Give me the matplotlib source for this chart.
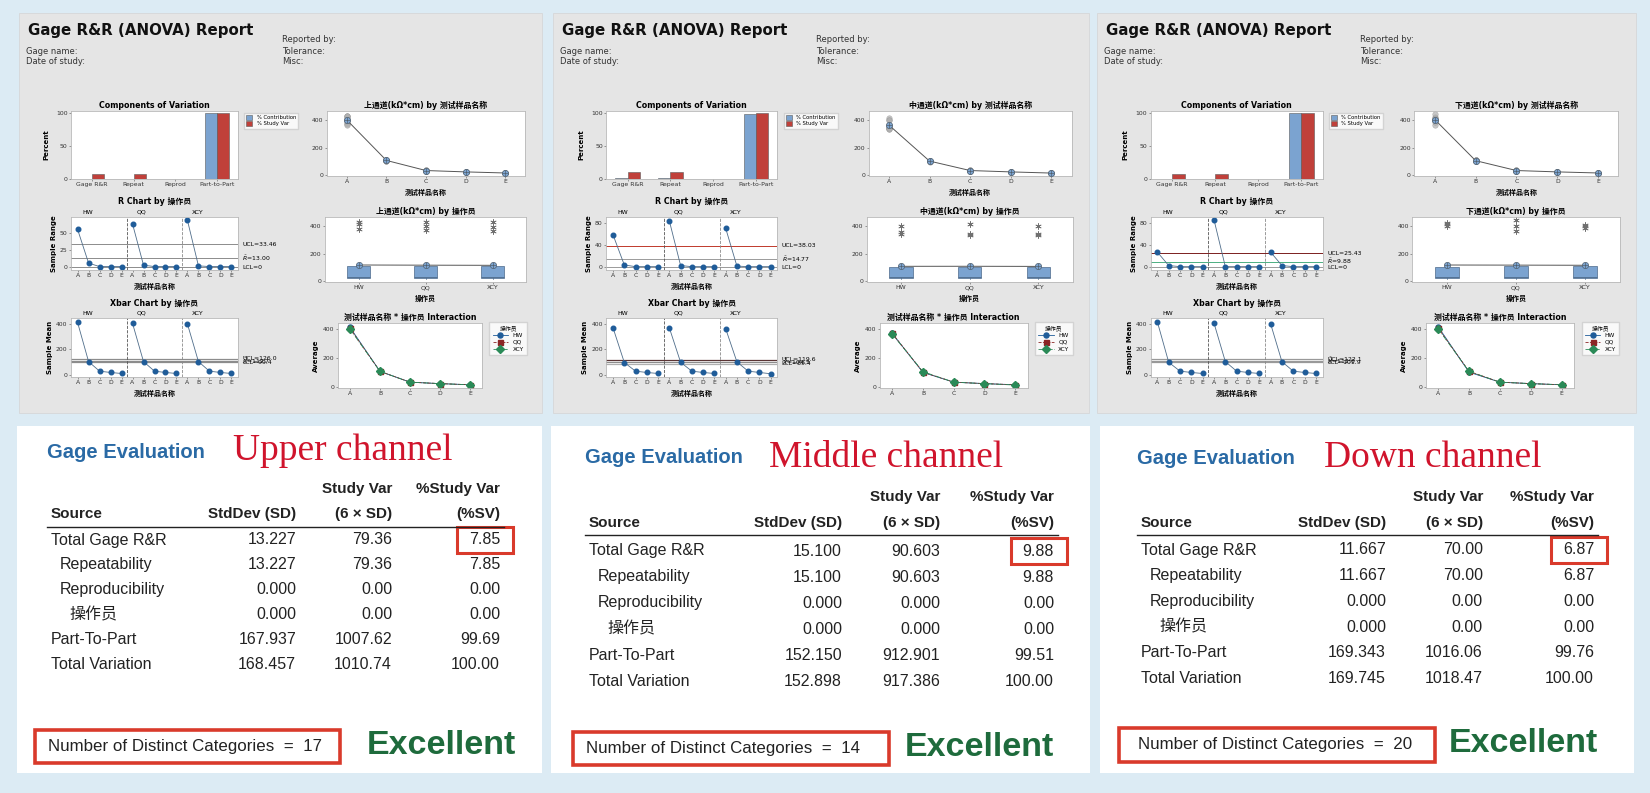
import numpy as np
import matplotlib
matplotlib.use('Agg')
import matplotlib.pyplot as plt
from matplotlib.patches import Rectangle

# ---- data ----
channels = ['上通道', '中通道', '下通道']
channel_names = ['Upper channel', 'Middle channel', 'Down channel']
operators = ['HW', 'QQ', 'XCY']
parts = ['A', 'B', 'C', 'D', 'E']

# measurements, parts A..E, 3 trials each
upper_hw = [435, 415, 380, 108, 102, 105, 30, 31, 30, 20, 21, 20, 12, 13, 12]
upper_qq = [435, 403, 372, 106, 103, 106, 30, 31, 30, 20, 21, 20, 12, 13, 12]
upper_xcy = [432, 398, 364, 106, 104, 105, 30, 31, 30, 20, 21, 20, 12, 13, 12]
middle_hw = [400, 362, 342, 96, 100, 98, 30, 31, 30, 20, 21, 20, 12, 13, 12]
middle_qq = [420, 347, 337, 98, 101, 100, 30, 31, 30, 20, 21, 20, 12, 13, 12]
middle_xcy = [406, 344, 336, 102, 104, 103, 30, 31, 30, 20, 21, 20, 10, 11, 10]
down_hw = [428, 415, 401, 98, 101, 100, 30, 31, 30, 20, 21, 20, 12, 13, 12]
down_qq = [450, 400, 365, 105, 106, 105, 30, 31, 30, 20, 21, 20, 12, 13, 12]
down_xcy = [413, 401, 386, 103, 106, 105, 30, 31, 30, 20, 21, 20, 12, 13, 12]

# control limits (UCL, centre, LCL)
upper_rlim = [33.46, 13.00, 0]
middle_rlim = [38.03, 14.77, 0]
down_rlim = [25.43, 9.88, 0]
upper_xlim = [126.0, 112.7, 99.4]
middle_xlim = [119.6, 104.5, 89.4]
down_xlim = [122.1, 112.0, 101.9]

comp_cats = ['Gage R&R', 'Repeat', 'Reprod', 'Part-to-Part']
sources = ['Total Gage R&R', 'Repeatability', 'Reproducibility', '操作员', 'Part-To-Part', 'Total Variation']
upper_sd = ['13.227', '13.227', '0.000', '0.000', '167.937', '168.457']
upper_sv = ['79.36', '79.36', '0.00', '0.00', '1007.62', '1010.74']
upper_psv = ['7.85', '7.85', '0.00', '0.00', '99.69', '100.00']
middle_sd = ['15.100', '15.100', '0.000', '0.000', '152.150', '152.898']
middle_sv = ['90.603', '90.603', '0.000', '0.000', '912.901', '917.386']
middle_psv = ['9.88', '9.88', '0.00', '0.00', '99.51', '100.00']
down_sd = ['11.667', '11.667', '0.000', '0.000', '169.343', '169.745']
down_sv = ['70.00', '70.00', '0.00', '0.00', '1016.06', '1018.47']
down_psv = ['6.87', '6.87', '0.00', '0.00', '99.76', '100.00']
ndc = [17, 14, 20]

meas = [[upper_hw, upper_qq, upper_xcy], [middle_hw, middle_qq, middle_xcy], [down_hw, down_qq, down_xcy]]
rlims = [upper_rlim, middle_rlim, down_rlim]
xlims = [upper_xlim, middle_xlim, down_xlim]
sds = [upper_sd, middle_sd, down_sd]
svs = [upper_sv, middle_sv, down_sv]
psvs = [upper_psv, middle_psv, down_psv]

# ---- layout (pixels) ----
W, H = 1650, 793
plt.rcParams['font.family'] = ['DejaVu Sans', 'Noto Sans CJK SC']
fig = plt.figure(figsize=(16.5, 7.93), dpi=100)
fig.patch.set_facecolor('#dcebf4')
bg = fig.add_axes([0, 0, 1, 1])
bg.set_xlim(0, W)
bg.set_ylim(H, 0)
bg.axis('off')

panel_x = [19, 553, 1097]
panel_w = [523, 536, 539]
white_x = [17, 551, 1100]
white_w = [525, 539, 534]

BLUE = '#1f5c99'
LINE = '#4f6d8a'


def px_axes(l, t, w, h):
    return fig.add_axes([l / W, 1 - (t + h) / H, w / W, h / H])


def style(ax):
    for s in ax.spines.values():
        s.set_color('#b8b8b8')
        s.set_linewidth(0.6)
    ax.tick_params(labelsize=4.4, length=1.5, width=0.4, pad=1, colors='#555', labelcolor='#333')


def oplus(ax, x, y):
    ax.plot(x, y, 'o', ms=4.5, mfc='#7ba3d0', mec='#50606f', mew=0.5, zorder=4)
    ax.plot(x, y, '+', ms=4.5, color='#50606f', mew=0.5, zorder=5)


tfs = 5.7   # chart title size
lfs = 5.0   # axis label size
sfs = 4.4   # small annotation size

for i in range(3):
    Lp, pw = panel_x[i], panel_w[i]
    sx = pw / 523
    bg.add_patch(Rectangle((Lp, 13), pw, 400, fc='#e5e5e5', ec='#d4d4d4', lw=0.5))
    bg.add_patch(Rectangle((white_x[i], 426), white_w[i], 347, fc='white', ec='none'))

    bg.text(Lp + 9, 31, 'Gage R&R (ANOVA) Report', fontsize=10.8, fontweight='bold', va='center', color='#111')
    for txt, xx, yy in [('Gage name:', 7, 51), ('Date of study:', 7, 62), ('Reported by:', 263, 40),
                        ('Tolerance:', 263, 51), ('Misc:', 263, 62)]:
        bg.text(Lp + xx, yy, txt, fontsize=6.0, va='center', color='#333')

    def rect(l, t, w, h):
        return px_axes(Lp + l * sx, 13 + t, w * sx, h)

    vals = np.array(meas[i], dtype=float).reshape(3, 5, 3)   # operator, part, trial
    ch = channels[i]

    # Components of variation
    sd = np.array(sds[i], dtype=float)
    rows = [0, 1, 2, 4]
    contrib = (sd[rows] / sd[5]) ** 2 * 100
    studyvar = np.array(psvs[i], dtype=float)[rows]
    ax = rect(52, 98, 167, 68)
    x = np.arange(4)
    ax.bar(x - 0.145, contrib, 0.29, color='#7ba3d0', ec='#5a5a5a', lw=0.4, label='% Contribution')
    ax.bar(x + 0.145, studyvar, 0.29, color='#c0403a', ec='#5a5a5a', lw=0.4, label='% Study Var')
    ax.set_xlim(-0.5, 3.5)
    ax.set_ylim(0, 103)
    ax.set_yticks([0, 50, 100])
    ax.set_xticks(x, comp_cats)
    ax.set_ylabel('Percent', fontsize=lfs, fontweight='bold', labelpad=5)
    ax.set_title('Components of Variation', fontsize=tfs, fontweight='bold', pad=2.5)
    ax.legend(loc='upper left', bbox_to_anchor=(1.02, 1.01), fontsize=3.8, frameon=True, fancybox=False,
              edgecolor='#cccccc', handlelength=1.2, handleheight=1.0, borderpad=0.4, labelspacing=0.2)
    style(ax)

    # measurements by part
    ax = rect(308, 98, 198, 65)
    per_part = vals.transpose(1, 0, 2).reshape(5, 9)
    for p in range(5):
        ax.plot(np.full(9, p), per_part[p], 'o', ms=4, mfc='#b0b0b0', mec='#909090', mew=0.3, alpha=0.7)
    pm = per_part.mean(axis=1)
    ax.plot(range(5), pm, color='#555555', lw=0.7)
    oplus(ax, range(5), pm)
    ax.set_xlim(-0.5, 4.5)
    ax.set_ylim(-10, 470)
    ax.set_yticks([0, 200, 400])
    ax.set_xticks(range(5), parts)
    ax.set_xlabel('测试样品名称', fontsize=lfs, fontweight='bold', labelpad=3)
    ax.set_title(f'{ch}(kΩ*cm) by 测试样品名称', fontsize=tfs, fontweight='bold', pad=2.5)
    style(ax)

    # R chart
    ax = rect(52, 204, 167, 53)
    ranges = np.ptp(vals, axis=2)
    for g in range(3):
        ax.plot(np.arange(5) + 5 * g, ranges[g], '-', color=LINE, lw=0.6)
        ax.plot(np.arange(5) + 5 * g, ranges[g], 'o', ms=3.3, color=BLUE)
        ax.text(5 * g + 0.4, 1.04, operators[g], transform=ax.get_xaxis_transform(), fontsize=sfs, va='bottom')
    rcol = [['#8c8c8c', '#8c8c8c', '#8c8c8c'], ['#c0392b', '#9a9a9a', '#9a9a9a'], ['#7b1f1f', '#4caf82', '#9a9a9a']][i]
    for v, c in zip(rlims[i], rcol):
        ax.axhline(v, color=c, lw=0.7, zorder=1)
    tr = ax.get_yaxis_transform()
    ax.text(1.025, rlims[i][0], f'UCL={rlims[i][0]:.2f}', transform=tr, fontsize=sfs, va='center')
    ax.text(1.025, rlims[i][1], r'$\bar{R}$' + f'={rlims[i][1]:.2f}', transform=tr, fontsize=sfs, va='center')
    ax.text(1.025, rlims[i][2], f'LCL={rlims[i][2]:g}', transform=tr, fontsize=sfs, va='center')
    ax.axvline(4.5, ls='--', color='#555555', lw=0.6)
    ax.axvline(9.5, ls='--', color='#8a8a8a', lw=0.6)
    ax.set_xlim(-0.6, 14.6)
    if i == 0:
        ax.set_ylim(-4, 73)
        ax.set_yticks([0, 25, 50])
    else:
        ax.set_ylim(-5, 90)
        ax.set_yticks([0, 40, 80])
    ax.set_xticks(range(15), parts * 3)
    ax.set_ylabel('Sample Range', fontsize=lfs, fontweight='bold', labelpad=2)
    ax.set_xlabel('测试样品名称', fontsize=lfs, fontweight='bold', labelpad=3)
    ax.set_title('R Chart by 操作员', fontsize=tfs, fontweight='bold', pad=9)
    style(ax)

    # measurements by operator
    ax = rect(306, 204, 201, 65)
    op_vals = vals.reshape(3, 15)
    ax.boxplot(list(op_vals), positions=[0, 1, 2], widths=0.34, patch_artist=True,
               boxprops=dict(facecolor='#7ba3d0', edgecolor='#4d6a8a', lw=0.5),
               medianprops=dict(color='#4d6a8a', lw=0.6),
               whiskerprops=dict(color='#4d6a8a', lw=0.5), capprops=dict(lw=0),
               flierprops=dict(marker=(6, 2, 0), ms=4.5, mec='#707070', mew=0.5))
    om = op_vals.mean(axis=1)
    ax.plot(range(3), om, color='#555555', lw=0.7)
    oplus(ax, range(3), om)
    ax.set_xlim(-0.5, 2.5)
    ax.set_ylim(-10, 470)
    ax.set_yticks([0, 200, 400])
    ax.set_xticks(range(3), operators)
    ax.set_xlabel('操作员', fontsize=lfs, fontweight='bold', labelpad=3)
    ax.set_title(f'{ch}(kΩ*cm) by 操作员', fontsize=tfs, fontweight='bold', pad=2.5)
    style(ax)

    # Xbar chart
    ax = rect(52, 305, 167, 59)
    means = vals.mean(axis=2)
    for g in range(3):
        ax.plot(np.arange(5) + 5 * g, means[g], '-', color=LINE, lw=0.6)
        ax.plot(np.arange(5) + 5 * g, means[g], 'o', ms=3.3, color=BLUE)
        ax.text(5 * g + 0.4, 1.04, operators[g], transform=ax.get_xaxis_transform(), fontsize=sfs, va='bottom')
    xcol = [['#8c8c8c', '#8c8c8c', '#8c8c8c'], ['#5a3535', '#8c8c8c', '#b0b0b0'], ['#999999', '#999999', '#999999']][i]
    for v, c in zip(xlims[i], xcol):
        ax.axhline(v, color=c, lw=0.9, zorder=1)
    tr = ax.get_yaxis_transform()
    ax.text(1.025, xlims[i][0], f'UCL={xlims[i][0]:.1f}', transform=tr, fontsize=sfs, va='center')
    ax.text(1.025, xlims[i][1], r'$\bar{\bar{X}}$' + f'={xlims[i][1]:.1f}', transform=tr, fontsize=sfs, va='center')
    ax.text(1.025, xlims[i][2], f'LCL={xlims[i][2]:.1f}', transform=tr, fontsize=sfs, va='center')
    ax.axvline(4.5, ls='--', color='#555555', lw=0.6)
    ax.axvline(9.5, ls='--', color='#8a8a8a', lw=0.6)
    ax.set_xlim(-0.6, 14.6)
    ax.set_ylim(-15, 445)
    ax.set_yticks([0, 200, 400])
    ax.set_xticks(range(15), parts * 3)
    ax.set_ylabel('Sample Mean', fontsize=lfs, fontweight='bold', labelpad=2)
    ax.set_xlabel('测试样品名称', fontsize=lfs, fontweight='bold', labelpad=3)
    ax.set_title('Xbar Chart by 操作员', fontsize=tfs, fontweight='bold', pad=9)
    style(ax)

    # interaction
    ax = rect(319, 310, 144, 65)
    for g, (mk, ls, c) in enumerate([('o', '-', BLUE), ('s', '--', '#8b2525'), ('D', '-.', '#2a8a57')]):
        ax.plot(range(5), means[g], marker=mk, ls=ls, color=c, ms=3.6, lw=0.6, label=operators[g])
    ax.set_xlim(-0.4, 4.4)
    ax.set_ylim(-10, 440)
    ax.set_yticks([0, 200, 400])
    ax.set_xticks(range(5), parts)
    ax.set_ylabel('Average', fontsize=lfs, fontweight='bold', labelpad=3)
    ax.set_title('测试样品名称 * 操作员 Interaction', fontsize=tfs, fontweight='bold', pad=2.5)
    ax.legend(title='操作员', loc='upper left', bbox_to_anchor=(1.03, 1.06), fontsize=4.2, title_fontsize=4.2,
              frameon=True, fancybox=False, edgecolor='#cccccc', handlelength=2.6, borderpad=0.6, labelspacing=0.3)
    style(ax)

# ---- Gage evaluation tables ----
TF = ['Liberation Sans', 'Noto Sans CJK SC']
geval_x = [47, 585, 1137]
geval_y = [458, 463, 464]
chan_x = [233, 769, 1324]
chan_y = [460, 467, 467]
src_x = [51, 589, 1141]
col_r = [(296, 392, 500), (842, 940, 1054), (1386, 1483, 1594)]
hdr_y = [(489, 514), (497, 523), (497, 523)]
rule_y = [527, 535, 535]
row0 = [540, 551, 550]
row_dy = [24.9, 26.0, 25.7]
indent = [0, 9, 9, 18, 0, 0]
ndc_box = [(35, 730, 305, 33), (573, 732, 316, 33), (1119, 728, 316, 34)]
ndc_tx = [48, 586, 1138]
exc_x = [367, 905, 1449]
exc_y = [745, 747, 743]

for i in range(3):
    bg.text(geval_x[i], geval_y[i], 'Gage Evaluation', fontsize=14.5, fontweight='bold', color='#2a6aa5',
            family=TF, va='baseline')
    bg.text(chan_x[i], chan_y[i], channel_names[i], fontsize=27, color='#d0142c', family='Liberation Serif',
            va='baseline')
    r1, r2, r3 = col_r[i]
    h1, h2 = hdr_y[i]
    hk = dict(fontsize=11, family=TF, fontweight='bold', va='center', color='#222')
    bg.text(r2, h1, 'Study Var', ha='right', **hk)
    bg.text(r3, h1, '%Study Var', ha='right', **hk)
    bg.text(src_x[i], h2, 'Source', ha='left', **hk)
    bg.text(r1, h2, 'StdDev (SD)', ha='right', **hk)
    bg.text(r2, h2, '(6 × SD)', ha='right', **hk)
    bg.text(r3, h2, '(%SV)', ha='right', **hk)
    bg.plot([src_x[i] - 4, r3 + 4], [rule_y[i], rule_y[i]], color='#222', lw=1.0)
    rk = dict(fontsize=11.5, family=TF, va='center', color='#222')
    for k, s in enumerate(sources):
        y = row0[i] + k * row_dy[i]
        bg.text(src_x[i] + indent[k], y, s, ha='left', **rk)
        bg.text(r1, y, sds[i][k], ha='right', **rk)
        bg.text(r2, y, svs[i][k], ha='right', **rk)
        bg.text(r3, y, psvs[i][k], ha='right', **rk)
    bg.add_patch(Rectangle((r3 - 43, row0[i] - 13), 56, 26, fc='none', ec='#d93a2b', lw=2.2))
    bx, by, bw, bh = ndc_box[i]
    bg.add_patch(Rectangle((bx, by), bw, bh, fc='none', ec='#d93a2b', lw=2.6))
    bg.text(ndc_tx[i], by + bh / 2, f'Number of Distinct Categories  =  {ndc[i]}', ha='left',
            fontsize=12.2, family=TF, va='center', color='#222')
    bg.text(exc_x[i], exc_y[i], 'Excellent', fontsize=24.5, fontweight='bold', family=TF, color='#1e6b3c',
            va='center')

fig.savefig('out.png', dpi=100, facecolor=fig.get_facecolor())
